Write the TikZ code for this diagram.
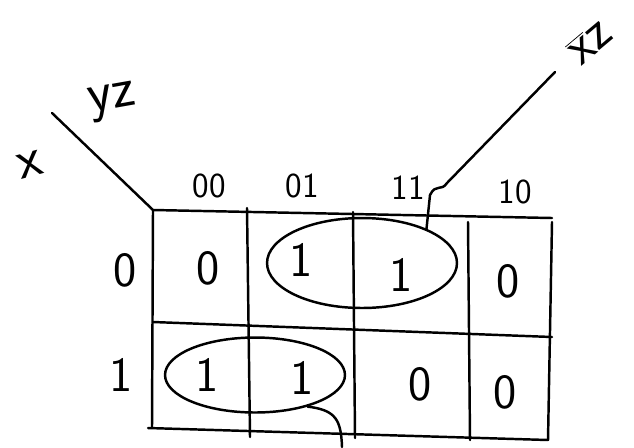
\documentclass[tikz,border=0pt]{standalone}
\usetikzlibrary{shapes.geometric}
\begin{document}
\begin{tikzpicture}[x=0.02cm,y=-0.02cm,line width=1.4pt,line cap=round,line join=round,
  cellval/.style={font=\fontsize{28}{30}\selectfont\sffamily},
  hdr/.style={font=\fontsize{20}{22}\selectfont\sffamily},
  group/.style={draw,ellipse,line width=1.4pt,inner sep=0pt}]
\useasboundingbox (0,0) rectangle (634,447);
% grid corners
\coordinate (tl) at (153,210);
\coordinate (tr) at (552,218);
\coordinate (ml) at (153,322);
\coordinate (mr) at (552,337);
\coordinate (bl) at (148,428);
\coordinate (br) at (548,440);
\coordinate (a1) at (247,208); \coordinate (a2) at (250,437);
\coordinate (b1) at (353,212); \coordinate (b2) at (355,438);
\coordinate (c1) at (468,222); \coordinate (c2) at (470,440);
\coordinate (rt) at (552,222);
\draw (tl) -- (tr);
\draw (ml) -- (mr);
\draw (bl) -- (br);
\draw (tl) -- (152,428);
\draw (a1) -- (a2);
\draw (b1) -- (b2);
\draw (c1) -- (c2);
\draw (rt) -- (br);
% corner diagonal
\coordinate (dg) at (52,113);
\draw (dg) -- (tl);
\node[font=\fontsize{32}{34}\selectfont\sffamily,rotate=15] (xl) at (30,165) {x};
\node[font=\fontsize{32}{34}\selectfont\sffamily,rotate=10] (yzl) at (113,102) {yz};
% headers
\node[hdr] (h00) at (209,186) {00};
\node[hdr] (h01) at (302,186) {01};
\node[hdr] (h11) at (408,188) {11};
\node[hdr] (h10) at (515,192) {10};
\node[cellval] (r0) at (125,270) {0};
\node[cellval] (r1) at (121,375) {1};
% cells
\node[cellval] (v00) at (208,268) {0};
\node[cellval] (v01) at (301,260) {1};
\node[cellval] (v03) at (401,275) {1};
\node[cellval] (v02) at (508,281) {0};
\node[cellval] (v10) at (207,375) {1};
\node[cellval] (v11) at (302,378) {1};
\node[cellval] (v13) at (420,384) {0};
\node[cellval] (v12) at (505,392) {0};
% groups
\node[group,minimum width=3.8cm,minimum height=1.8cm] (g1) at (362,263) {};
\node[group,minimum width=3.6cm,minimum height=1.5cm] (g2) at (255,375) {};
% leaders
\coordinate (k1) at (430,195);
\coordinate (k2) at (447,183);
\coordinate (lt) at (555,72);
\draw (g1.28) -- (k1) .. controls (436,183) and (441,192) .. (k2) -- (lt);
\node[font=\fontsize{30}{32}\selectfont\sffamily,rotate=40] (xz) at (590,42) {$\overline{\mbox{x}}$z};
\coordinate (lb) at (342,447);
\draw (g2.-31) .. controls (336,410) and (341,420) .. (lb);
\end{tikzpicture}
\end{document}
